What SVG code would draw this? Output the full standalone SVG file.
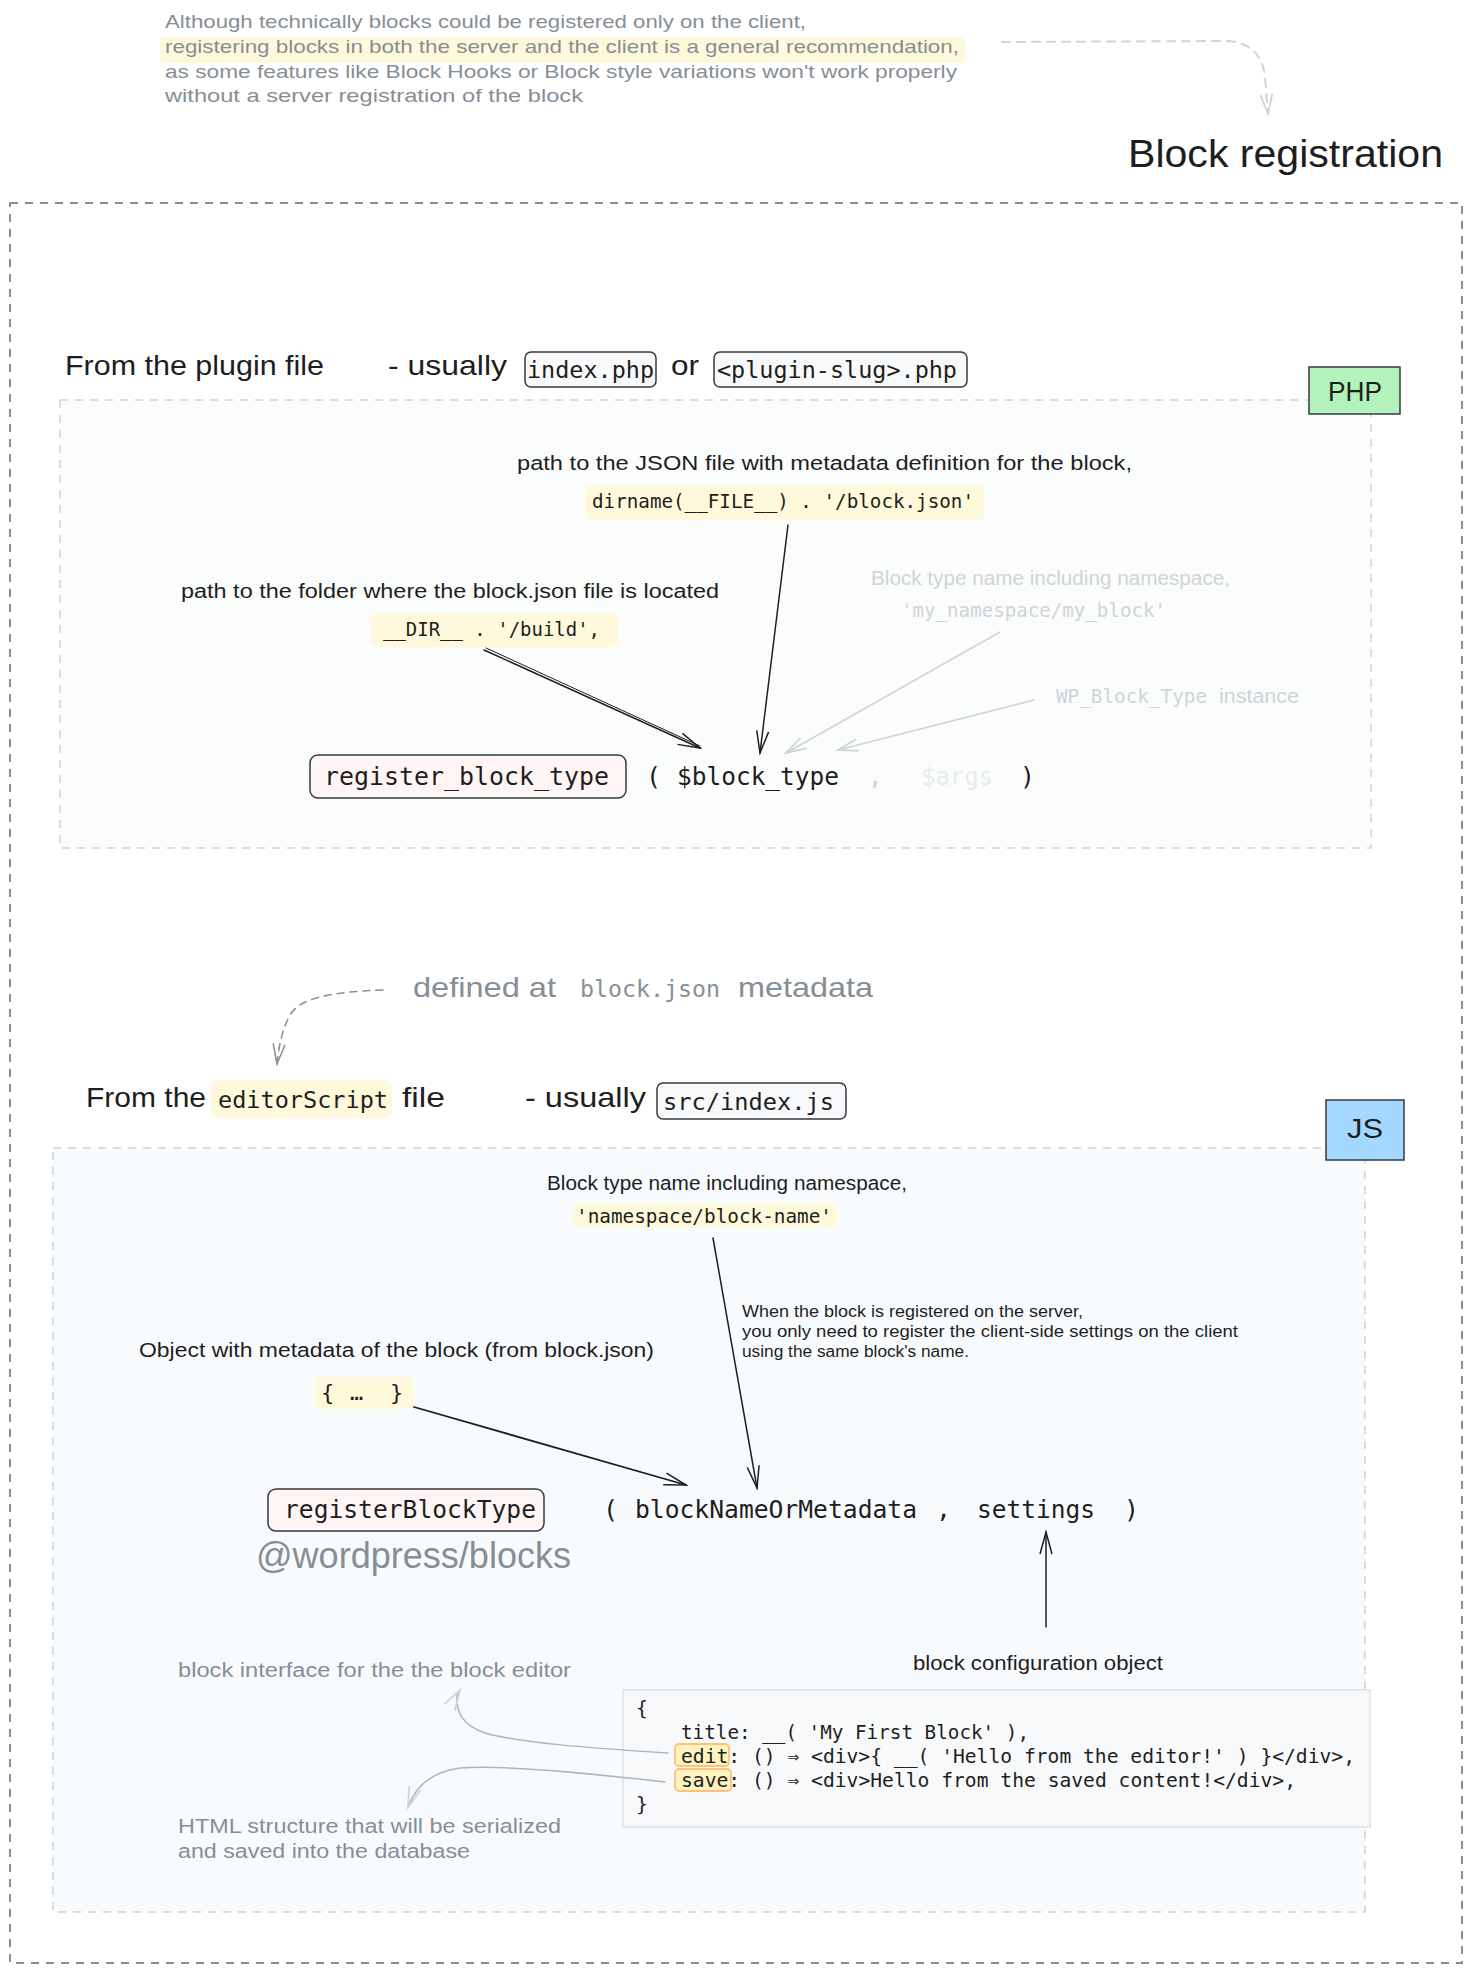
<svg xmlns="http://www.w3.org/2000/svg" width="1474" height="1975" viewBox="0 0 1474 1975">
<style>
.hand{font-family:"Liberation Sans","DejaVu Sans",sans-serif;}
.mono{font-family:"DejaVu Sans Mono","Liberation Mono",monospace;}
.dark{fill:#1e1e1e;}
.gray{fill:#868e96;}
.light{fill:#ced4da;}
.hl{fill:#fff9db;}
.chip{fill:#f8f9fa;stroke:#343a40;stroke-width:1.5;}
.fn{fill:#fff5f5;stroke:#343a40;stroke-width:1.5;}
.ed{fill:#fff3bf;stroke:#ffc078;stroke-width:1.8;}
.conn{fill:none;stroke-linecap:round;stroke-linejoin:round;}
</style>
<defs>
<marker id="ahDark" markerWidth="30" markerHeight="20" refX="0" refY="0" viewBox="-24 -10 28 20" orient="auto" markerUnits="userSpaceOnUse"><path d="M-22,-6 L0,0 L-22,6" fill="none" stroke="#1e1e1e" stroke-width="1.5"/></marker>
<marker id="ahGray" markerWidth="30" markerHeight="20" refX="0" refY="0" viewBox="-24 -10 28 20" orient="auto" markerUnits="userSpaceOnUse"><path d="M-20,-6 L0,0 L-20,6" fill="none" stroke="#868e96" stroke-width="1.5"/></marker>
<marker id="ahLight" markerWidth="30" markerHeight="20" refX="0" refY="0" viewBox="-24 -10 28 20" orient="auto" markerUnits="userSpaceOnUse"><path d="M-20,-6 L0,0 L-20,6" fill="none" stroke="#ced4da" stroke-width="1.8"/></marker>
</defs>
<rect width="1474" height="1975" fill="#ffffff"/>

<g id="outer-frame">
<rect x="10" y="203" width="1452" height="1760" fill="none" stroke="#868e96" stroke-width="2" stroke-dasharray="8 7"/>
</g>

<g id="intro-note">
<rect x="160" y="37" width="805" height="26" rx="4" class="hl"/>
<text class="hand gray" font-size="19" x="165" y="28" textLength="641" lengthAdjust="spacingAndGlyphs">Although technically blocks could be registered only on the client,</text>
<text class="hand gray" font-size="19" x="165" y="53" textLength="794" lengthAdjust="spacingAndGlyphs">registering blocks in both the server and the client is a general recommendation,</text>
<text class="hand gray" font-size="19" x="165" y="78" textLength="792" lengthAdjust="spacingAndGlyphs">as some features like Block Hooks or Block style variations won't work properly</text>
<text class="hand gray" font-size="19" x="165" y="102" textLength="418" lengthAdjust="spacingAndGlyphs">without a server registration of the block</text>
</g>

<g id="title">
<text class="hand dark" font-size="38" x="1128" y="167" textLength="315" lengthAdjust="spacingAndGlyphs">Block registration</text>
</g>

<g id="php-header">
<text class="hand dark" font-size="28" x="65" y="375" textLength="259" lengthAdjust="spacingAndGlyphs">From the plugin file</text>
<text class="hand dark" font-size="28" x="388" y="375" textLength="119" lengthAdjust="spacingAndGlyphs">- usually</text>
<rect x="525" y="352" width="131" height="35" rx="6" class="chip"/>
<text class="mono dark" font-size="23.5" x="527" y="378" textLength="127" lengthAdjust="spacingAndGlyphs">index.php</text>
<text class="hand dark" font-size="28" x="671" y="375" textLength="28" lengthAdjust="spacingAndGlyphs">or</text>
<rect x="714" y="352" width="253" height="35" rx="6" class="chip"/>
<text class="mono dark" font-size="23.5" x="717" y="378" textLength="240" lengthAdjust="spacingAndGlyphs">&lt;plugin-slug&gt;.php</text>
</g>

<g id="php-box">
<rect x="60" y="400" width="1311" height="448" fill="#fbfcfc" stroke="#ced4da" stroke-width="1.5" stroke-dasharray="8 7"/>
</g>

<g id="php-tag">
<rect x="1309" y="367" width="91" height="47" fill="#b2f2bb" stroke="#343a40" stroke-width="1.5"/>
<text class="hand dark" font-size="28" x="1355" y="401" text-anchor="middle" textLength="54" lengthAdjust="spacingAndGlyphs">PHP</text>
</g>

<g id="php-metadata-arg">
<text class="hand dark" font-size="20" x="517" y="470" textLength="615" lengthAdjust="spacingAndGlyphs">path to the JSON file with metadata definition for the block,</text>
<rect x="585" y="485" width="399" height="35" rx="6" class="hl"/>
<text class="mono dark" font-size="19.3" x="592" y="508" textLength="382" lengthAdjust="spacingAndGlyphs">dirname(__FILE__) . '/block.json'</text>
</g>

<g id="php-folder-arg">
<text class="hand dark" font-size="20" x="181" y="598" textLength="538" lengthAdjust="spacingAndGlyphs">path to the folder where the block.json file is located</text>
<rect x="371" y="613" width="248" height="34" rx="6" class="hl"/>
<text class="mono dark" font-size="19" x="383" y="636" textLength="217" lengthAdjust="spacingAndGlyphs">__DIR__ . '/build',</text>
</g>

<g id="php-name-arg">
<text class="hand light" font-size="20" x="871" y="585" textLength="359" lengthAdjust="spacingAndGlyphs">Block type name including namespace,</text>
<text class="mono light" font-size="19.2" x="901" y="617" textLength="265" lengthAdjust="spacingAndGlyphs">'my_namespace/my_block'</text>
</g>

<g id="php-instance-arg">
<text class="mono light" font-size="19.4" x="1056" y="703" textLength="151" lengthAdjust="spacingAndGlyphs">WP_Block_Type</text>
<text class="hand light" font-size="20" x="1219" y="703" textLength="80" lengthAdjust="spacingAndGlyphs">instance</text>
</g>

<g id="php-call">
<rect x="310" y="755" width="316" height="43" rx="8" class="fn"/>
<text class="mono dark" font-size="25" x="324" y="785" textLength="285" lengthAdjust="spacingAndGlyphs">register_block_type</text>
<text class="mono dark" font-size="25" x="646" y="785">(</text>
<text class="mono dark" font-size="25" x="677" y="785" textLength="162" lengthAdjust="spacingAndGlyphs">$block_type</text>
<text class="mono light" font-size="25" x="868" y="785">,</text>
<text class="mono" fill="#e9ecef" font-size="24" x="921" y="785" textLength="72" lengthAdjust="spacingAndGlyphs">$args</text>
<text class="mono dark" font-size="25" x="1020" y="785">)</text>
</g>

<g id="js-note">
<text class="hand gray" font-size="28" x="413" y="997" textLength="143" lengthAdjust="spacingAndGlyphs">defined at</text>
<text class="mono gray" font-size="23.3" x="580" y="997" textLength="140" lengthAdjust="spacingAndGlyphs">block.json</text>
<text class="hand gray" font-size="28" x="738" y="997" textLength="135" lengthAdjust="spacingAndGlyphs">metadata</text>
</g>

<g id="js-header">
<text class="hand dark" font-size="28" x="86" y="1107" textLength="120" lengthAdjust="spacingAndGlyphs">From the</text>
<rect x="211" y="1080" width="181" height="38" rx="8" class="hl"/>
<text class="mono dark" font-size="23.6" x="218" y="1108" textLength="170" lengthAdjust="spacingAndGlyphs">editorScript</text>
<text class="hand dark" font-size="28" x="402" y="1107" textLength="43" lengthAdjust="spacingAndGlyphs">file</text>
<text class="hand dark" font-size="28" x="525" y="1107" textLength="121" lengthAdjust="spacingAndGlyphs">- usually</text>
<rect x="657" y="1083" width="189" height="36" rx="6" class="chip"/>
<text class="mono dark" font-size="23.7" x="663" y="1110" textLength="171" lengthAdjust="spacingAndGlyphs">src/index.js</text>
</g>

<g id="js-box">
<rect x="53" y="1148" width="1312" height="764" fill="#f8fbfe" stroke="#ced4da" stroke-width="1.5" stroke-dasharray="8 7"/>
</g>

<g id="js-tag">
<rect x="1326" y="1100" width="78" height="60" fill="#a5d8ff" stroke="#343a40" stroke-width="1.5"/>
<text class="hand dark" font-size="28" x="1365" y="1138" text-anchor="middle" textLength="36" lengthAdjust="spacingAndGlyphs">JS</text>
</g>

<g id="js-name-arg">
<text class="hand dark" font-size="20" x="547" y="1190" textLength="360" lengthAdjust="spacingAndGlyphs">Block type name including namespace,</text>
<rect x="573" y="1203" width="264" height="25" rx="6" class="hl"/>
<text class="mono dark" font-size="19.4" x="576" y="1223" textLength="256" lengthAdjust="spacingAndGlyphs">'namespace/block-name'</text>
</g>

<g id="js-server-note">
<text class="hand dark" font-size="16" x="742" y="1317" textLength="341" lengthAdjust="spacingAndGlyphs">When the block is registered on the server,</text>
<text class="hand dark" font-size="16" x="742" y="1337" textLength="496" lengthAdjust="spacingAndGlyphs">you only need to register the client-side settings on the client</text>
<text class="hand dark" font-size="16" x="742" y="1357" textLength="227" lengthAdjust="spacingAndGlyphs">using the same block's name.</text>
</g>

<g id="js-metadata-arg">
<text class="hand dark" font-size="20" x="139" y="1357" textLength="515" lengthAdjust="spacingAndGlyphs">Object with metadata of the block (from block.json)</text>
<rect x="314" y="1377" width="100" height="32" rx="6" class="hl"/>
<text class="mono dark" font-size="22" y="1400"><tspan x="321">{</tspan><tspan x="350">…</tspan><tspan x="390">}</tspan></text>
</g>

<g id="js-call">
<rect x="268" y="1489" width="276" height="42" rx="8" class="fn"/>
<text class="mono dark" font-size="24.7" x="284" y="1518" textLength="252" lengthAdjust="spacingAndGlyphs">registerBlockType</text>
<text class="hand gray" font-size="36" x="256" y="1568" textLength="315" lengthAdjust="spacingAndGlyphs">@wordpress/blocks</text>
<text class="mono dark" font-size="25" x="603" y="1518">(</text>
<text class="mono dark" font-size="24.7" x="635" y="1518" textLength="282" lengthAdjust="spacingAndGlyphs">blockNameOrMetadata</text>
<text class="mono dark" font-size="25" x="936" y="1518">,</text>
<text class="mono dark" font-size="24.7" x="977" y="1518" textLength="118" lengthAdjust="spacingAndGlyphs">settings</text>
<text class="mono dark" font-size="25" x="1124" y="1518">)</text>
</g>

<g id="js-settings">
<text class="hand dark" font-size="20" x="913" y="1670" textLength="250" lengthAdjust="spacingAndGlyphs">block configuration object</text>
<rect x="623" y="1690" width="747" height="137" fill="#f8f9fa" stroke="#dee2e6" stroke-width="1.5"/>
<rect x="675" y="1744" width="54" height="22" rx="4" class="ed"/>
<rect x="675" y="1769" width="56" height="22" rx="4" class="ed"/>
<text class="mono dark" font-size="19.7" x="636" y="1715">{</text>
<text class="mono dark" font-size="19.7" x="681" y="1739" textLength="348" lengthAdjust="spacingAndGlyphs">title: __( 'My First Block' ),</text>
<text class="mono dark" font-size="19.7" x="681" y="1763" textLength="674" lengthAdjust="spacingAndGlyphs">edit: () ⇒ &lt;div&gt;{ __( 'Hello from the editor!' ) }&lt;/div&gt;,</text>
<text class="mono dark" font-size="19.7" x="681" y="1787" textLength="615" lengthAdjust="spacingAndGlyphs">save: () ⇒ &lt;div&gt;Hello from the saved content!&lt;/div&gt;,</text>
<text class="mono dark" font-size="19.7" x="636" y="1811">}</text>
</g>

<g id="js-edit-note">
<text class="hand gray" font-size="20" x="178" y="1677" textLength="393" lengthAdjust="spacingAndGlyphs">block interface for the the block editor</text>
</g>

<g id="js-save-note">
<text class="hand gray" font-size="20" x="178" y="1833" textLength="383" lengthAdjust="spacingAndGlyphs">HTML structure that will be serialized</text>
<text class="hand gray" font-size="20" x="178" y="1858" textLength="292" lengthAdjust="spacingAndGlyphs">and saved into the database</text>
</g>

<g id="connectors">
<path class="conn" d="M1002,42 L1225,41 Q1262,42 1265,78 L1268,114" stroke="#ced4da" stroke-width="2" stroke-dasharray="8 7" marker-end="url(#ahLight)"/>
<path class="conn" d="M788,525 L760,753" stroke="#1e1e1e" stroke-width="1.5" marker-end="url(#ahDark)"/>
<path class="conn" d="M484,650 L700,748" stroke="#1e1e1e" stroke-width="1.5" marker-end="url(#ahDark)"/>
<path class="conn" d="M486,648 L700,746" stroke="#1e1e1e" stroke-width="1"/>
<path class="conn" d="M1000,632 L786,753" stroke="#ced4da" stroke-width="1.5" marker-end="url(#ahLight)"/>
<path class="conn" d="M1034,700 L838,750" stroke="#ced4da" stroke-width="1.8" marker-end="url(#ahLight)"/>
<path class="conn" d="M383,990 C330,992 300,998 290,1015 C282,1030 279,1045 277,1064" stroke="#868e96" stroke-width="1.5" stroke-dasharray="7 6" marker-end="url(#ahGray)"/>
<path class="conn" d="M713,1238 L757,1488" stroke="#1e1e1e" stroke-width="1.5" marker-end="url(#ahDark)"/>
<path class="conn" d="M414,1407 L686,1485" stroke="#1e1e1e" stroke-width="1.8" marker-end="url(#ahDark)"/>
<path class="conn" d="M1046,1627 L1046,1532" stroke="#1e1e1e" stroke-width="1.5" marker-end="url(#ahDark)"/>
<path class="conn" d="M668,1753 C590,1748 520,1743 485,1733 C462,1725 456,1712 457,1695 L460,1690" stroke="#adb5bd" stroke-width="1.5" marker-end="url(#ahLight)"/>
<path class="conn" d="M665,1782 C580,1772 500,1765 460,1768 C430,1772 415,1788 408,1807" stroke="#adb5bd" stroke-width="1.5" marker-end="url(#ahLight)"/>
</g>
</svg>
